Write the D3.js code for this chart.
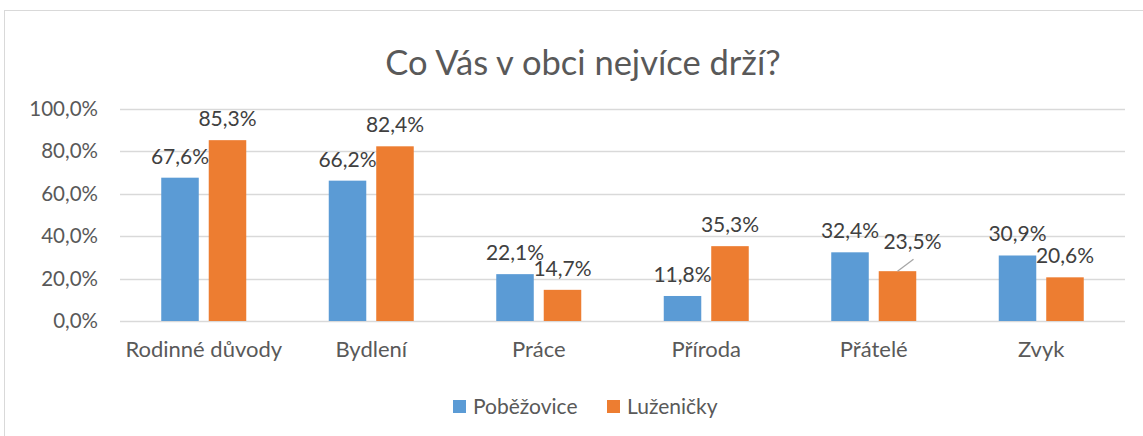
<!DOCTYPE html>
<html>
<head>
<meta charset="utf-8">
<script src="https://cdn.jsdelivr.net/npm/d3@7"></script>
<style>
  body { margin: 0; background: #fff; }
  svg text { font-family: Lato, "Open Sans", sans-serif; }
</style>
</head>
<body>
<div id="chart"></div>
<script>
const categories = ["Rodinné důvody", "Bydlení", "Práce", "Příroda", "Přátelé", "Zvyk"];
const seriesNames = ["Poběžovice", "Luženičky"];
const pobezovice = [67.6, 66.2, 22.1, 11.8, 32.4, 30.9];
const luzenicky = [85.3, 82.4, 14.7, 35.3, 23.5, 20.6];
const yTicks = [0, 20, 40, 60, 80, 100];
const colors = ["#5b9bd5", "#ed7d31"];

const width = 1143, height = 436;
const svg = d3.select("#chart").append("svg")
    .attr("width", width)
    .attr("height", height);

// ramecek grafu
svg.append("rect")
    .attr("x", 4.5).attr("y", 10.5)
    .attr("width", 1180).attr("height", 440)
    .attr("fill", "#fff")
    .attr("stroke", "#d9d9d9");

svg.append("text")
    .attr("x", 583).attr("y", 75)
    .attr("text-anchor", "middle")
    .attr("font-size", 34.5)
    .attr("fill", "#595959")
    .text("Co Vás v obci nejvíce drží?");

const x0 = d3.scaleBand().domain(categories).range([120, 1125]);
const x1 = d3.scaleBand().domain(seriesNames)
    .range([(x0.bandwidth() - 85) / 2, (x0.bandwidth() + 85) / 2])
    .paddingInner(0.21);
const y = d3.scaleLinear().domain([0, 100]).range([321, 109]);

const fmt = v => v.toFixed(1).replace(".", ",") + "%";

// mrizka
svg.append("g").selectAll("line")
    .data(yTicks)
    .join("line")
    .attr("x1", 120).attr("x2", 1125)
    .attr("y1", d => Math.round(y(d)) + 0.5)
    .attr("y2", d => Math.round(y(d)) + 0.5)
    .attr("stroke", "#d9d9d9")
    .attr("stroke-width", 1.3);

const yAxis = svg.append("g")
    .attr("transform", "translate(98,0)")
    .call(d3.axisLeft(y).tickValues(yTicks).tickSize(0).tickPadding(0).tickFormat(fmt));
yAxis.select(".domain").remove();
yAxis.selectAll("text").attr("font-size", 20.5).attr("fill", "#595959");

const xAxis = svg.append("g")
    .attr("transform", "translate(0,333)")
    .call(d3.axisBottom(x0).tickSize(0));
xAxis.select(".domain").remove();
xAxis.selectAll("text").attr("font-size", 22).attr("fill", "#595959").attr("dy", "0.95em");

const rows = categories.map((c, i) => ({
    cat: c,
    vals: [
        { s: seriesNames[0], v: pobezovice[i], k: 0 },
        { s: seriesNames[1], v: luzenicky[i], k: 1 }
    ]
}));

const groups = svg.append("g").selectAll("g")
    .data(rows)
    .join("g")
    .attr("transform", d => `translate(${x0(d.cat)},0)`);

groups.selectAll("rect")
    .data(d => d.vals)
    .join("rect")
    .attr("x", d => x1(d.s))
    .attr("y", d => y(d.v))
    .attr("width", x1.bandwidth())
    .attr("height", d => y(0) - y(d.v))
    .attr("fill", d => colors[d.k]);

// popisky hodnot (Přátelé / Luženičky je posunutý s odkazovou čarou)
groups.each(function (d) {
    const g = d3.select(this);
    d.vals.forEach(v => {
        const cx = x1(v.s) + x1.bandwidth() / 2;
        let lx = cx, ly = y(v.v) - 14;
        if (d.cat === "Přátelé" && v.k === 1) {
            lx = cx + 15; ly = y(v.v) - 22;
            g.append("line")
                .attr("x1", cx).attr("y1", y(v.v))
                .attr("x2", cx + 16).attr("y2", y(v.v) - 12)
                .attr("stroke", "#a6a6a6").attr("stroke-width", 1.3);
        }
        g.append("text")
            .attr("x", lx).attr("y", ly)
            .attr("text-anchor", "middle")
            .attr("font-size", 21)
            .attr("fill", "#404040")
            .text(fmt(v.v));
    });
});

const legend = svg.append("g").selectAll("g")
    .data(seriesNames)
    .join("g")
    .attr("transform", (d, i) => `translate(${[453, 607][i]},400)`);
legend.append("rect")
    .attr("width", 13).attr("height", 13)
    .attr("fill", (d, i) => colors[i]);
legend.append("text")
    .attr("x", 20).attr("y", 14)
    .attr("font-size", 21)
    .attr("fill", "#595959")
    .text(d => d);
</script>
</body>
</html>
